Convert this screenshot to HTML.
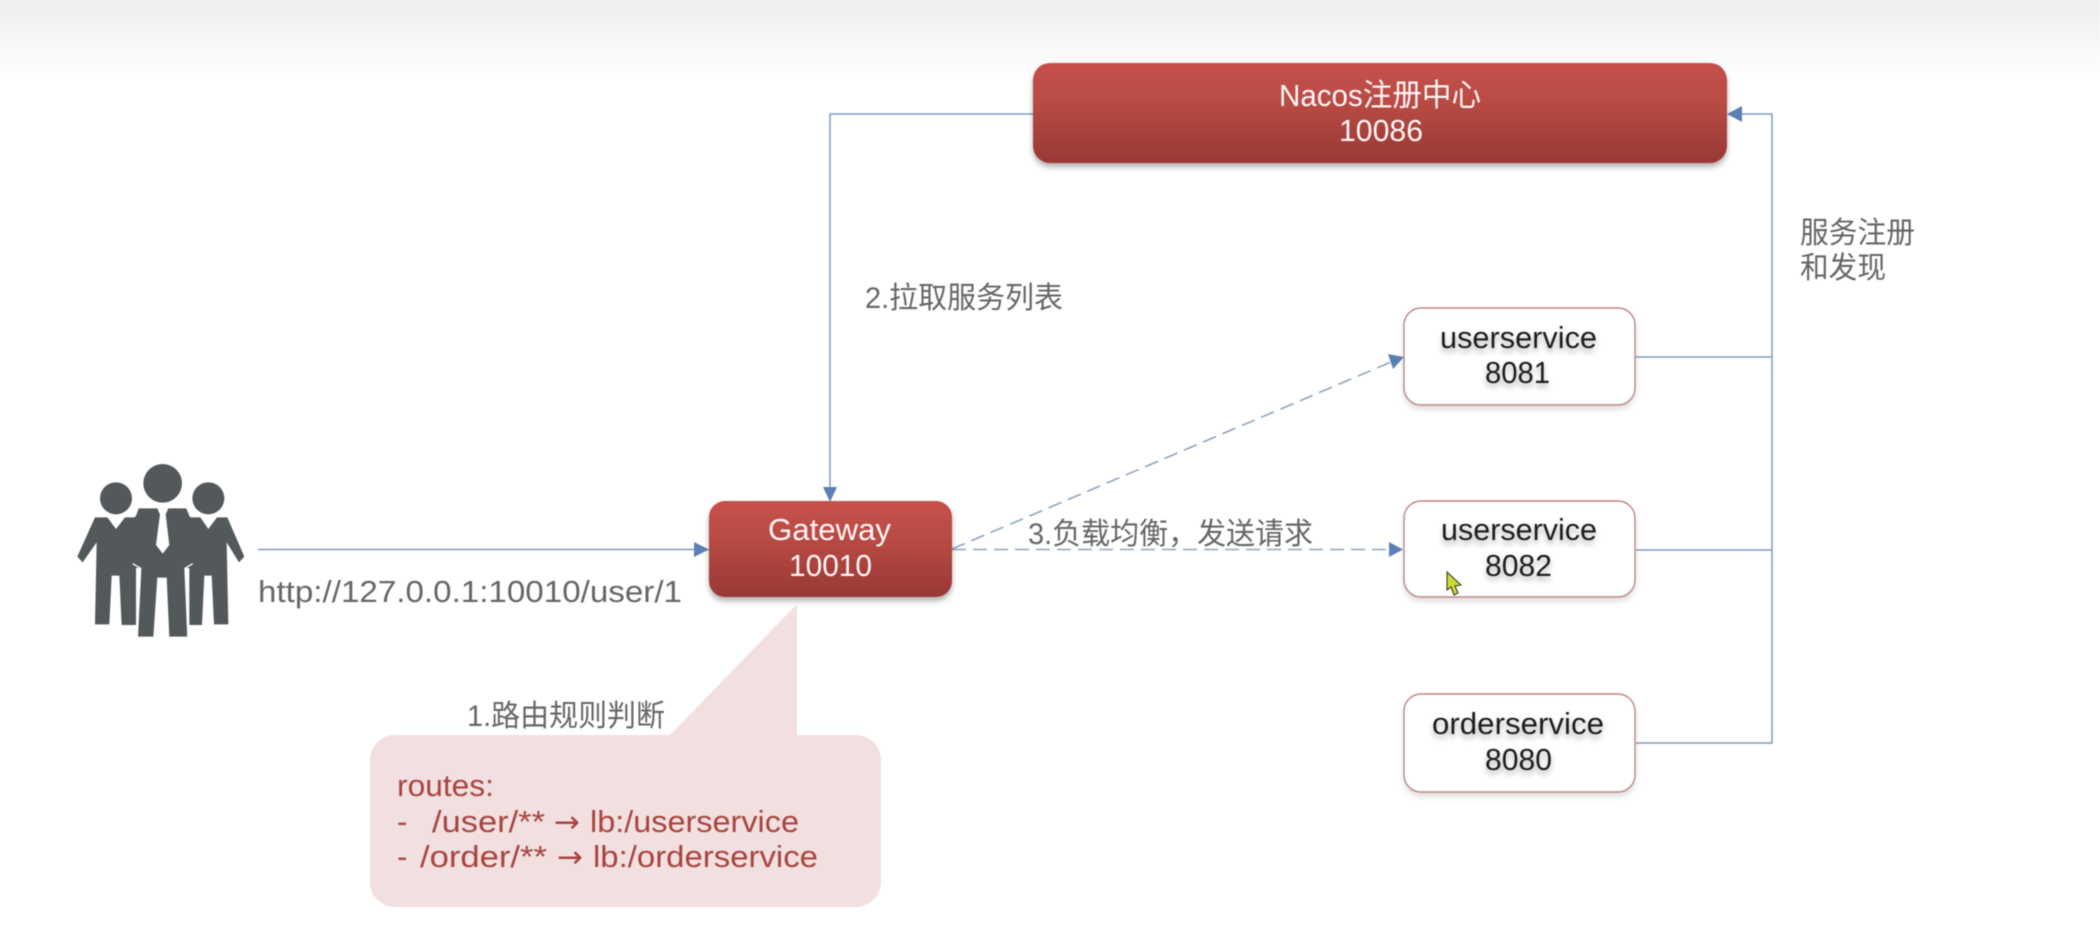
<!DOCTYPE html>
<html>
<head>
<meta charset="utf-8">
<style>
html,body{margin:0;padding:0;background:#fff;width:2100px;height:936px;overflow:hidden}
svg{display:block;filter:blur(.55px)}
text{font-family:"Liberation Sans","Noto Sans CJK SC",sans-serif;font-size:31px}
.c{font-size:30px}
.g{fill:#666}
.w{fill:#fdf6f5}
.k{fill:#1d1d1d;filter:drop-shadow(0 4px 3px rgba(0,0,0,.3))}
.r{fill:#a8443f}
.a{font-family:"DejaVu Sans",sans-serif;font-size:30px}
</style>
</head>
<body>
<svg width="2100" height="936" viewBox="0 0 2100 936" xmlns="http://www.w3.org/2000/svg">
<defs>
<linearGradient id="top" x1="0" y1="0" x2="0" y2="1"><stop offset="0" stop-color="#eeeeee"/><stop offset=".6" stop-color="#f8f8f8"/><stop offset="1" stop-color="#ffffff"/></linearGradient>
<linearGradient id="red" x1="0" y1="0" x2="0" y2="1"><stop offset="0" stop-color="#c6514a"/><stop offset=".35" stop-color="#bb4c45"/><stop offset="1" stop-color="#983835"/></linearGradient>
<filter id="sh" x="-10%" y="-20%" width="120%" height="150%"><feDropShadow dx="0" dy="4" stdDeviation="3" flood-color="#000" flood-opacity=".3"/></filter>
<filter id="sh2" x="-10%" y="-20%" width="120%" height="150%"><feDropShadow dx="0" dy="4" stdDeviation="3" flood-color="#000" flood-opacity=".12"/></filter>
</defs>

<rect x="0" y="0" width="2100" height="78" fill="url(#top)"/>

<!-- connectors -->
<g fill="none" stroke="#7f9bbf" stroke-width="1.5">
<path d="M1033 114H830V488"/>
<path d="M258 549.5H695"/>
<path d="M1635 357H1772M1636 550H1772M1636 743H1772V114H1741"/>
</g>
<g fill="none" stroke="#8fa3ba" stroke-width="1.6" stroke-dasharray="14 7">
<path d="M952 549L1391 362"/>
<path d="M952 549.5H1390"/>
</g>
<g fill="#5b80b5">
<path d="M823 487H837L830 502Z"/>
<path d="M694 542V557L709 549.5Z"/>
<path d="M1742 106V122L1727 114Z"/>
<path d="M1404 357L1388 354L1393 369Z"/>
<path d="M1389 542V557L1403 549.5Z"/>
</g>

<!-- Nacos -->
<rect x="1033" y="63" width="694" height="100" rx="17" fill="url(#red)" filter="url(#sh)"/>
<text class="w" x="1279" y="106" textLength="202" lengthAdjust="spacingAndGlyphs">Nacos注册中心</text>
<text class="w" x="1339" y="141" textLength="84" lengthAdjust="spacingAndGlyphs">10086</text>

<!-- Gateway -->
<rect x="709" y="501" width="243" height="96" rx="16" fill="url(#red)" filter="url(#sh)"/>
<text class="w" x="768" y="540" textLength="123" lengthAdjust="spacingAndGlyphs">Gateway</text>
<text class="w" x="789" y="576" textLength="83" lengthAdjust="spacingAndGlyphs">10010</text>

<!-- Services -->
<g fill="#fff" stroke="#bd8583" stroke-width="1.4" filter="url(#sh2)">
<rect x="1404" y="308" width="231" height="97" rx="17"/>
<rect x="1404" y="501" width="231" height="96" rx="17"/>
<rect x="1404" y="694" width="231" height="98" rx="17"/>
</g>
<text class="k" x="1440" y="348" textLength="157" lengthAdjust="spacingAndGlyphs">userservice</text>
<text class="k" x="1485" y="383" textLength="65" lengthAdjust="spacingAndGlyphs">8081</text>
<text class="k" x="1441" y="540" textLength="156" lengthAdjust="spacingAndGlyphs">userservice</text>
<text class="k" x="1485" y="576" textLength="67" lengthAdjust="spacingAndGlyphs">8082</text>
<text class="k" x="1432" y="734" textLength="172" lengthAdjust="spacingAndGlyphs">orderservice</text>
<text class="k" x="1485" y="770" textLength="67" lengthAdjust="spacingAndGlyphs">8080</text>

<!-- cursor -->
<path d="M1447 572V590L1451 587L1454 595L1458 593L1455 586L1461 585Z" fill="#c9da3a" stroke="#3c3f22" stroke-width="1.1"/>

<!-- Labels -->
<text class="g" x="258" y="602" textLength="424" lengthAdjust="spacingAndGlyphs">http://127.0.0.1:10010/user/1</text>
<text class="g c" x="865" y="308" textLength="198" lengthAdjust="spacingAndGlyphs">2.拉取服务列表</text>
<text class="g c" x="1028" y="544" textLength="285" lengthAdjust="spacingAndGlyphs">3.负载均衡，发送请求</text>
<text class="g c" x="1800" y="243" textLength="115" lengthAdjust="spacingAndGlyphs">服务注册</text>
<text class="g c" x="1800" y="278" textLength="86" lengthAdjust="spacingAndGlyphs">和发现</text>

<!-- Callout -->
<path d="M395 735H670L797 604V735H856A25 25 0 0 1 881 760V882A25 25 0 0 1 856 907H395A25 25 0 0 1 370 882V760A25 25 0 0 1 395 735Z" fill="#f2e0e0"/>
<text class="g c" x="467" y="726" textLength="198" lengthAdjust="spacingAndGlyphs">1.路由规则判断</text>
<text class="r" x="397" y="796" textLength="97" lengthAdjust="spacingAndGlyphs">routes:</text>
<text class="r" x="397" y="832">-</text>
<text class="r" x="432" y="832" textLength="113" lengthAdjust="spacingAndGlyphs">/user/**</text>
<text class="r a" x="554" y="832" textLength="26" lengthAdjust="spacingAndGlyphs">→</text>
<text class="r" x="590" y="832" textLength="209" lengthAdjust="spacingAndGlyphs">lb:/userservice</text>
<text class="r" x="397" y="867">-</text>
<text class="r" x="420" y="867" textLength="127" lengthAdjust="spacingAndGlyphs">/order/**</text>
<text class="r a" x="557" y="867" textLength="26" lengthAdjust="spacingAndGlyphs">→</text>
<text class="r" x="593" y="867" textLength="225" lengthAdjust="spacingAndGlyphs">lb:/orderservice</text>

<!-- People -->
<g transform="translate(70 455) scale(.33333)" fill="#53585b">
<circle cx="278" cy="85" r="58"/>
<circle cx="138" cy="130" r="48"/>
<circle cx="415" cy="130" r="48"/>
<path d="M75 187H112L138 222L165 187H200L230 330L198 340V510H155L148 362H125L118 508H75L80 262L38 322L22 305Z"/>
<path d="M472 187H441L415 222L391 187H356L326 330L358 340V510H396L403 362H425L432 508H475L470 262L507 322L523 305Z"/>
<path d="M205 160H350L362 190L365 322L345 340L352 545H298L290 368H262L250 545H203L212 340L190 325L195 185Z"/>
<path d="M262 160H295L287 178L298 270L278 296L258 270L270 178Z" fill="#fff"/>
<g fill="none" stroke="#fff" stroke-width="4">
<path d="M188 326L212 340L202 548"/>
<path d="M368 326L345 340L354 548"/>
</g>
<g fill="none" stroke="#fff" stroke-width="2.5">
<path d="M196 184L205 160"/>
<path d="M360 184L350 160"/>
</g>
</g>
</svg>
</body>
</html>
